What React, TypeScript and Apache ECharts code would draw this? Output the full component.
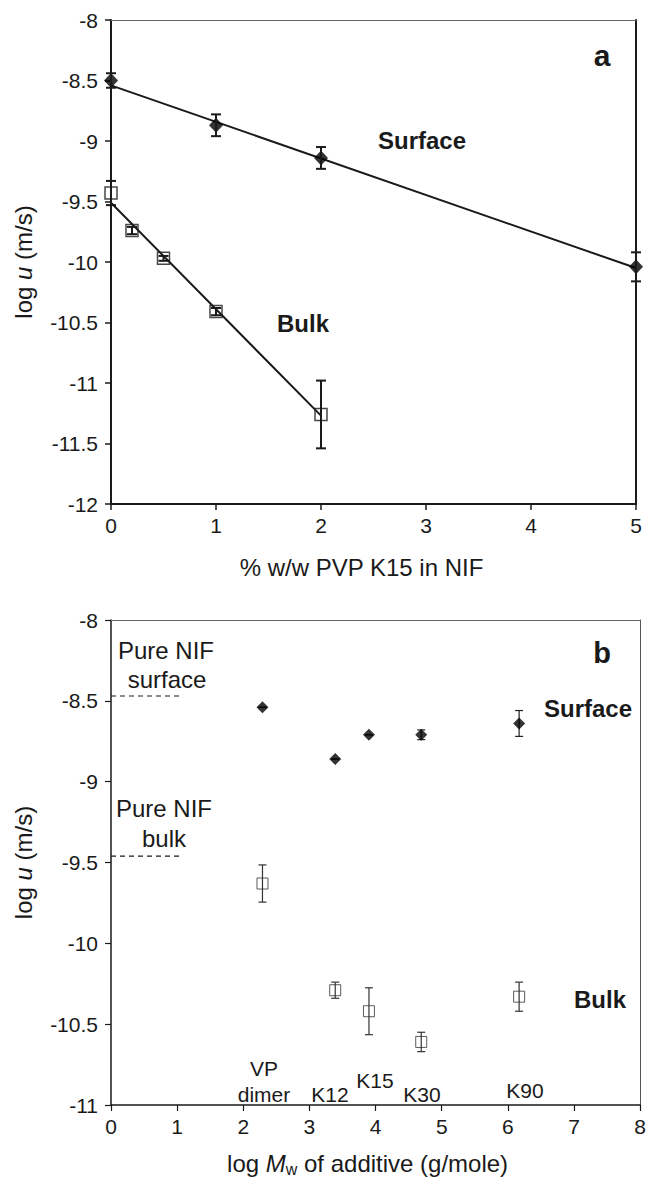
import React, { useEffect, useRef } from "react";
import * as echarts from "echarts";

// ---- Panel a data ----
const aSurfaceX = [0, 1, 2, 5];
const aSurfaceY = [-8.5, -8.87, -9.14, -10.04];
const aSurfaceErr = [0.06, 0.09, 0.09, 0.12];
const aBulkX = [0, 0.2, 0.5, 1, 2];
const aBulkY = [-9.43, -9.74, -9.97, -10.41, -11.26];
const aBulkErr = [0.1, 0.03, 0.02, 0.03, 0.28];
const aSurfaceFit = [[0, -8.54], [5, -10.05]];
const aBulkFit = [[0, -9.51], [2, -11.27]];

// ---- Panel b data ----
const bX = [2.29, 3.39, 3.9, 4.69, 6.17];
const bSurfaceY = [-8.54, -8.86, -8.71, -8.71, -8.64];
const bSurfaceErr = [0, 0, 0, 0.03, 0.08];
const bBulkY = [-9.63, -10.29, -10.42, -10.61, -10.33];
const bBulkErr = [0.115, 0.05, 0.145, 0.06, 0.09];
const bAdditives = ["VP", "dimer", "K12", "K15", "K30", "K90"];
const pureSurface = -8.47;
const pureBulk = -9.46;
const pureLineEnd = 1.05;

const FONT = '"Liberation Sans", Arial, sans-serif';
const INK = "#1a1a1a";

function zip(xs: number[], ys: number[], es?: number[]) {
  return xs.map((x, i) => (es ? [x, ys[i], es[i]] : [x, ys[i]]));
}

function errSeries(data: number[][], idx: number, width: number, cap: number, color: string) {
  return {
    type: "custom",
    xAxisIndex: idx,
    yAxisIndex: idx,
    z: 5,
    silent: true,
    data,
    renderItem: (params: any, api: any) => {
      const x = api.value(0);
      const y = api.value(1);
      const e = api.value(2);
      const top = api.coord([x, y + e]);
      const bot = api.coord([x, y - e]);
      const st = { stroke: color, lineWidth: width };
      return {
        type: "group",
        children: [
          { type: "line", shape: { x1: top[0], y1: top[1], x2: bot[0], y2: bot[1] }, style: st },
          { type: "line", shape: { x1: top[0] - cap, y1: top[1], x2: top[0] + cap, y2: top[1] }, style: st },
          { type: "line", shape: { x1: bot[0] - cap, y1: bot[1], x2: bot[0] + cap, y2: bot[1] }, style: st },
        ],
      };
    },
  };
}

function txt(text: string, x: number, y: number, size: number, bold = false) {
  return {
    type: "text",
    x,
    y,
    style: {
      text,
      font: `${bold ? "bold " : ""}${size}px ${FONT}`,
      fill: INK,
      align: "center",
      verticalAlign: "middle",
    },
  };
}

export default function App() {
  const ref = useRef<HTMLDivElement>(null);
  useEffect(() => {
    document.body.style.margin = "0";
    const chart = echarts.init(ref.current!, null, { renderer: "svg" });

    const axisLabel = { color: INK, fontSize: 21, fontFamily: FONT };
    const yName = "log {i|u} (m/s)";
    const nameStyle = {
      color: INK,
      fontSize: 24,
      fontFamily: FONT,
      rich: { i: { fontStyle: "italic", fontSize: 24, fontFamily: FONT, color: INK } },
    };

    const option: any = {
      animation: false,
      backgroundColor: "#fff",
      grid: [
        { left: 111, top: 20, width: 525, height: 484, show: false },
        { left: 111, top: 620, width: 532, height: 490, show: false },
      ],
      xAxis: [
        {
          gridIndex: 0,
          type: "value",
          min: 0,
          max: 5,
          interval: 1,
          position: "bottom",
          axisLine: { show: true, onZero: false, lineStyle: { color: INK, width: 2 } },
          axisTick: { show: true, length: 6, lineStyle: { color: INK, width: 1.5 } },
          axisLabel: { ...axisLabel, margin: 11 },
          splitLine: { show: false },
          name: "% w/w PVP K15 in NIF",
          nameLocation: "middle",
          nameGap: 51,
          nameTextStyle: { ...nameStyle, padding: [0, 24, 0, 0] },
        },
        {
          gridIndex: 1,
          type: "value",
          min: 0,
          max: 8,
          interval: 1,
          position: "bottom",
          axisLine: { show: true, onZero: false, lineStyle: { color: INK, width: 1.5 } },
          axisTick: { show: true, length: 6, lineStyle: { color: INK, width: 1.2 } },
          axisLabel: { ...axisLabel, margin: 11 },
          splitLine: { show: false },
          name: "log {i|M}{s|w} of additive (g/mole)",
          nameLocation: "middle",
          nameGap: 44,
          nameTextStyle: {
            ...nameStyle,
            padding: [0, 16, 0, 0],
            lineHeight: 28,
            rich: {
              i: { fontStyle: "italic", fontSize: 24, fontFamily: FONT, color: INK, lineHeight: 28 },
              s: { fontSize: 16, fontFamily: FONT, color: INK, verticalAlign: "bottom", lineHeight: 28 },
            },
          },
        },
        {
          gridIndex: 0, type: "value", min: 0, max: 5, position: "top",
          axisLine: { show: true, onZero: false, lineStyle: { color: "#666", width: 1 } },
          axisTick: { show: false }, axisLabel: { show: false }, splitLine: { show: false },
        },
        {
          gridIndex: 1, type: "value", min: 0, max: 8, position: "top",
          axisLine: { show: true, onZero: false, lineStyle: { color: "#666", width: 1 } },
          axisTick: { show: false }, axisLabel: { show: false }, splitLine: { show: false },
        },
      ],
      yAxis: [
        {
          gridIndex: 0,
          type: "value",
          min: -12,
          max: -8,
          interval: 0.5,
          position: "left",
          axisLine: { show: true, onZero: false, lineStyle: { color: INK, width: 2 } },
          axisTick: { show: true, length: 6, lineStyle: { color: INK, width: 1.5 } },
          axisLabel: { ...axisLabel, margin: 13 },
          splitLine: { show: false },
          name: yName,
          nameLocation: "middle",
          nameGap: 76,
          nameTextStyle: nameStyle,
        },
        {
          gridIndex: 1,
          type: "value",
          min: -11,
          max: -8,
          interval: 0.5,
          position: "left",
          axisLine: { show: true, onZero: false, lineStyle: { color: INK, width: 1.5 } },
          axisTick: { show: true, length: 6, lineStyle: { color: INK, width: 1.2 } },
          axisLabel: { ...axisLabel, margin: 13 },
          splitLine: { show: false },
          name: yName,
          nameLocation: "middle",
          nameGap: 76,
          nameTextStyle: nameStyle,
        },
        {
          gridIndex: 0, type: "value", min: -12, max: -8, position: "right",
          axisLine: { show: true, onZero: false, lineStyle: { color: INK, width: 2 } },
          axisTick: { show: false }, axisLabel: { show: false }, splitLine: { show: false },
        },
        {
          gridIndex: 1, type: "value", min: -11, max: -8, position: "right",
          axisLine: { show: true, onZero: false, lineStyle: { color: "#555", width: 1 } },
          axisTick: { show: false }, axisLabel: { show: false }, splitLine: { show: false },
        },
      ],
      series: [
        {
          type: "line", xAxisIndex: 0, yAxisIndex: 0, data: aSurfaceFit, symbol: "none",
          lineStyle: { color: INK, width: 2 }, z: 3, silent: true,
        },
        {
          type: "line", xAxisIndex: 0, yAxisIndex: 0, data: aBulkFit, symbol: "none",
          lineStyle: { color: INK, width: 2 }, z: 3, silent: true,
        },
        errSeries(zip(aSurfaceX, aSurfaceY, aSurfaceErr), 0, 2, 5, INK),
        errSeries(zip(aBulkX, aBulkY, aBulkErr), 0, 2, 5, INK),
        {
          type: "scatter", xAxisIndex: 0, yAxisIndex: 0, data: zip(aSurfaceX, aSurfaceY),
          symbol: "diamond", symbolSize: [14, 15], itemStyle: { color: "#000" }, z: 4,
        },
        {
          type: "scatter", xAxisIndex: 0, yAxisIndex: 0, data: zip(aBulkX, aBulkY),
          symbol: "rect", symbolSize: 12,
          itemStyle: { color: "rgba(255,255,255,0)", borderColor: INK, borderWidth: 1.5 }, z: 4,
        },
        {
          type: "line", xAxisIndex: 1, yAxisIndex: 1,
          data: [[0, pureSurface], [pureLineEnd, pureSurface]], symbol: "none",
          lineStyle: { color: INK, width: 1.2, type: [5, 4] }, silent: true,
        },
        {
          type: "line", xAxisIndex: 1, yAxisIndex: 1,
          data: [[0, pureBulk], [pureLineEnd, pureBulk]], symbol: "none",
          lineStyle: { color: INK, width: 1.2, type: [5, 4] }, silent: true,
        },
        errSeries(zip(bX, bSurfaceY, bSurfaceErr), 1, 1.2, 4, "#222"),
        errSeries(zip(bX, bBulkY, bBulkErr), 1, 1.2, 4, "#333"),
        {
          type: "scatter", xAxisIndex: 1, yAxisIndex: 1, data: zip(bX, bSurfaceY),
          symbol: "diamond", symbolSize: 12, itemStyle: { color: "#000" }, z: 6,
        },
        {
          type: "scatter", xAxisIndex: 1, yAxisIndex: 1, data: zip(bX, bBulkY),
          symbol: "rect", symbolSize: 11,
          itemStyle: { color: "rgba(255,255,255,0)", borderColor: "#333", borderWidth: 1 }, z: 4,
        },
      ],
      graphic: [
        txt("a", 602, 55, 30, true),
        txt("Surface", 422, 140, 24, true),
        txt("Bulk", 303, 323, 24, true),
        txt("b", 602, 653, 29, true),
        txt("Surface", 588, 708, 24, true),
        txt("Bulk", 600, 999, 24, true),
        txt("Pure NIF", 166, 650, 24),
        txt("surface", 167, 679, 24),
        txt("Pure NIF", 164, 808, 24),
        txt("bulk", 164, 838, 24),
        txt(bAdditives[0], 264, 1068, 21),
        txt(bAdditives[1], 264, 1094, 21),
        txt(bAdditives[2], 330, 1094, 21),
        txt(bAdditives[3], 375, 1080, 21),
        txt(bAdditives[4], 422, 1094, 21),
        txt(bAdditives[5], 525, 1090, 21),
      ],
    };
    chart.setOption(option);
    return () => chart.dispose();
  }, []);
  return <div ref={ref} style={{ width: 649, height: 1178 }} />;
}
